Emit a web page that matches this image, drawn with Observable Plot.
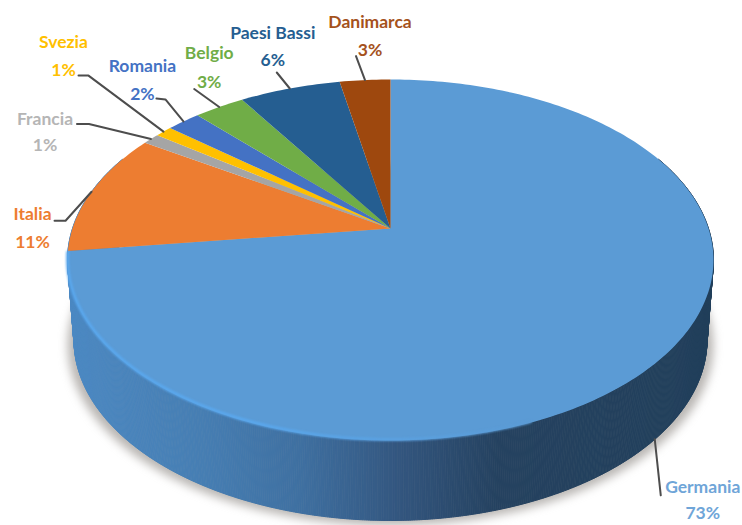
<!DOCTYPE html>
<html lang="it">
<head>
<meta charset="utf-8">
<title>Quote per paese</title>
<script src="https://cdn.jsdelivr.net/npm/d3@7"></script>
<script src="https://cdn.jsdelivr.net/npm/@observablehq/plot@0.6"></script>
<style>
  html, body { margin: 0; padding: 0; background: #fff; }
  svg { display: block; }
</style>
</head>
<body>
<script>
// Shares per country, clockwise from twelve o'clock
const countries = ["Germania", "Italia", "Francia", "Svezia", "Romania", "Belgio", "Paesi Bassi", "Danimarca"];
const shares = [73, 11, 1, 1, 2, 3, 6, 3];
const sliceColors = ["#5b9bd5", "#ed7d31", "#a5a5a5", "#ffc000", "#4472c4", "#70ad47", "#255e91", "#9e480e"];
const textColors = ["#6fa5d8", "#ed7d31", "#b5b5b5", "#ffc000", "#4472c4", "#70ad47", "#255e91", "#a5521c"];

// Leader and label placement, as offsets from each slice's rim point
const leaderBends = [[[6, 56]], [[-26, 29], [-37, 29]], [[-62, -15], [-74, -15]], [[-75, -56], [-85, -56]],
  [[-18, -22], [-27, -23]], [[-25, -18]], [[-13, -16]], [[-9, -24]]];
const nameOffsets = [[48, 48], [-59, 23], [-106, -20], [-100, -89], [-41, -55], [-10, -54], [-17, -55], [5, -58]];
const shareOffsets = [[48, 74], [-59, 51], [-106, 6], [-100, -61], [-41, -27], [-10, -25], [-17, -28], [5, -30]];

// Tilted disc: a circle seen in perspective, so the hub sits above the ellipse's centre
const hub = { x: 390, y: 228 }, radiusX = 318, radiusY = 175, tilt = 0.1745;
const wallDepth = 80, wallScale = 0.98;

function rim(angle) {
  const u = Math.sin(angle), v = -Math.cos(angle), w = 1 - tilt * v;
  return { x: hub.x + radiusX * u / w, y: hub.y + radiusY * v / w };
}
const baseRim = (angle) => {
  const p = rim(angle);
  return { x: hub.x + wallScale * (p.x - hub.x), y: p.y + wallDepth };
};

const arcAngles = (a0, a1, step = Math.PI / 180) => {
  const n = Math.max(1, Math.ceil((a1 - a0) / step));
  return d3.range(n + 1).map((i) => a0 + (a1 - a0) * i / n);
};

const arcs = d3.pie().sort(null).startAngle(0).endAngle(2 * Math.PI)(shares);

// Top face polygons
const slicePoints = arcs.flatMap((arc, i) => [
  { ...hub, id: i, color: sliceColors[i] },
  ...arcAngles(arc.startAngle, arc.endAngle).map((a) => ({ ...rim(a), id: i, color: sliceColors[i] }))
]);

// Side wall, shaded in narrow strips from lit left to dark right
const wallShade = d3.scaleLinear()
  .domain([66, 200, 300, 400, 500, 713])
  .range(["#4c89c3", "#467eb3", "#3f70a1", "#33567f", "#254260", "#213f5b"]);
const wallAngles = arcAngles(0.18 * 2 * Math.PI, 0.82 * 2 * Math.PI, Math.PI / 540);
const wallPoints = wallAngles.slice(1).flatMap((a, i) => {
  const b = wallAngles[i], p = rim(b), color = wallShade(p.x);
  return [p, rim(a), baseRim(a), baseRim(b)].map((q) => ({ ...q, id: i, color }));
});

// Soft shadow under the disc
const shadowPoints = arcAngles(0, 2 * Math.PI).map((a) => {
  const p = baseRim(a);
  return { x: hub.x + 1.02 * (p.x - hub.x), y: p.y + 5 };
});

// Lit bevel along the front-left edge, fading into the top face at its far end
const bevelFade = d3.scaleLinear().domain([0.44, 0.56, 0.728]).range(["#5b9bd5", "#5aa8ee", "#5aa8ee"]);
const bevelPoints = arcAngles(0.44 * 2 * Math.PI, 0.728 * 2 * Math.PI).map((a) => {
  const p = rim(a);
  return { x: p.x, y: p.y - 1, color: bevelFade(a / (2 * Math.PI)) };
});

const anchors = arcs.map((arc, i) => {
  const mid = (arc.startAngle + arc.endAngle) / 2;
  return i === 0 ? baseRim(mid) : rim(mid);
});

const leaderPoints = anchors.flatMap((p, i) => [
  { x: p.x, y: p.y, id: i },
  ...leaderBends[i].map(([dx, dy]) => ({ x: p.x + dx, y: p.y + dy, id: i }))
]);

const labels = anchors.flatMap((p, i) => [
  { x: p.x + nameOffsets[i][0], y: p.y + nameOffsets[i][1], text: countries[i], color: textColors[i] },
  { x: p.x + shareOffsets[i][0], y: p.y + shareOffsets[i][1], text: `${shares[i]}%`, color: textColors[i] }
]);

const chart = Plot.plot({
  width: 742,
  height: 525,
  margin: 0,
  x: { domain: [0, 742], axis: null },
  y: { domain: [525, 0], axis: null },
  color: { type: "identity" },
  marks: [
    Plot.line(shadowPoints, { x: "x", y: "y", fill: "#8a8580", stroke: "none", fillOpacity: 0.6, imageFilter: "blur(5px)" }),
    Plot.line(wallPoints, { x: "x", y: "y", z: "id", fill: "color", stroke: "color", strokeWidth: 1 }),
    Plot.line(slicePoints, { x: "x", y: "y", z: "id", fill: "color", stroke: "none" }),
    Plot.line(bevelPoints, { x: "x", y: "y", z: null, stroke: "color", strokeWidth: 3, imageFilter: "blur(1px)" }),
    Plot.line(leaderPoints, { x: "x", y: "y", z: "id", stroke: "#4d4d4d", strokeWidth: 2 }),
    Plot.text(labels, {
      x: "x", y: "y", text: "text", fill: "color",
      fontFamily: "Lato", fontWeight: 700, fontSize: 17.5
    })
  ]
});
document.body.append(chart);
</script>
</body>
</html>
